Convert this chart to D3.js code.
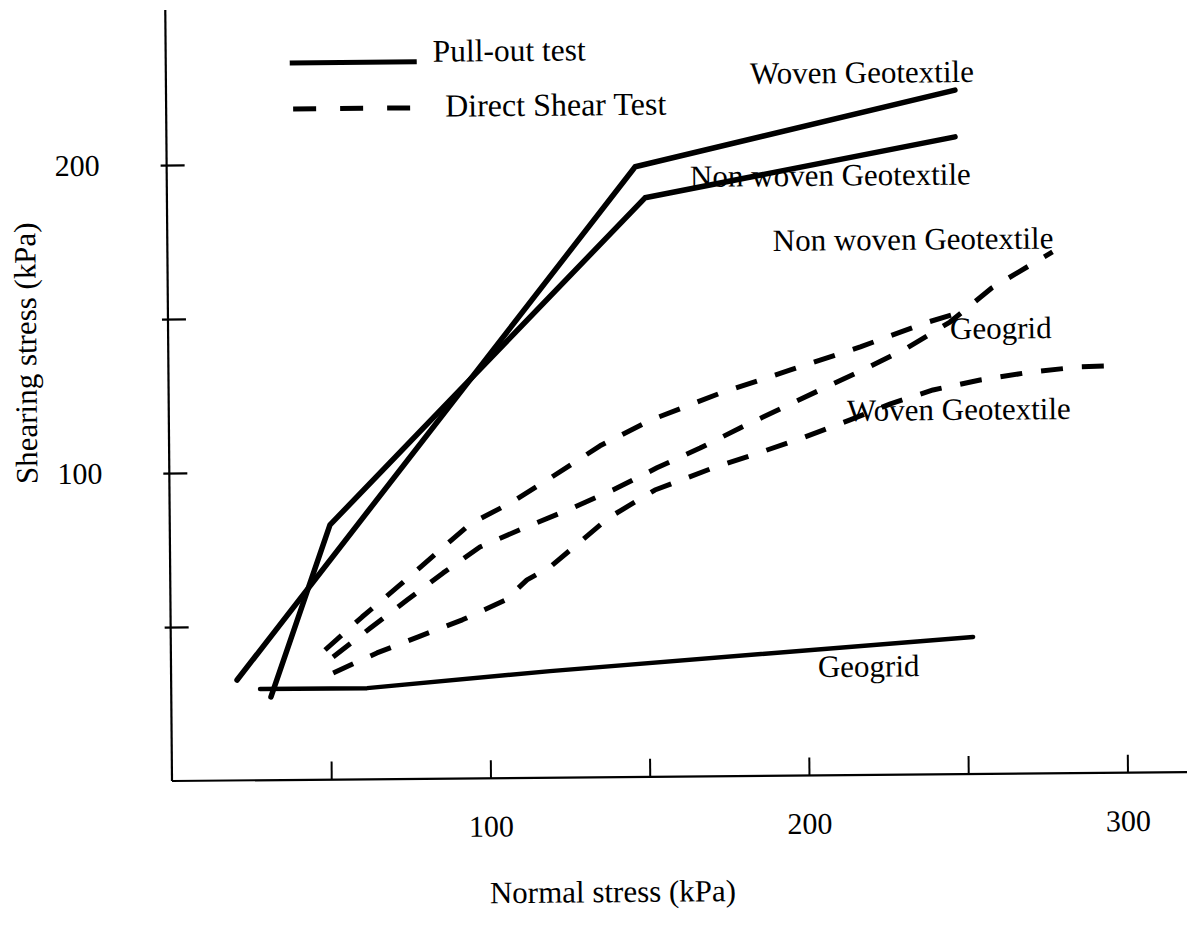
<!DOCTYPE html>
<html>
<head>
<meta charset="utf-8">
<script src="https://cdn.jsdelivr.net/npm/d3@7"></script>
<style>
  html, body { margin: 0; padding: 0; background: #fff; }
  svg { display: block; }
  text { font-family: "Liberation Serif", "Times New Roman", serif; fill: #000; }
</style>
</head>
<body>
<svg id="chart" width="1187" height="935"></svg>
<script>
// Axis ticks and labels (kPa)
const xTicks = [50, 100, 150, 200, 250, 300];
const xTickLabels = [100, 200, 300];
const yTicks = [50, 100, 150, 200];
const yTickLabels = [100, 200];

// Pull-out test results: [normal stress, shearing stress] in kPa
const pulloutWoven    = [[20.7, 32.6], [147.1, 198.1], [247.7, 222.1]];
const pulloutNonWoven = [[31.3, 27.0], [50.3, 82.7], [150.1, 188.0], [247.6, 206.9]];
const pulloutGeogrid  = [[27.9, 29.6], [61.5, 29.6], [119.0, 34.6], [251.9, 44.5]];

// Direct shear test results
const shearGeogrid = [[48.4, 42.1], [60.1, 52.7], [72.1, 63.0], [84.9, 74.3], [94.3, 82.6],
  [107.0, 89.3], [119.6, 97.3], [135.3, 107.6], [151.2, 115.8], [173.3, 124.4],
  [195.3, 131.7], [217.3, 139.0], [237.8, 146.6], [248.9, 150.0]];
const shearNonWoven = [[50.9, 39.8], [62.7, 49.1], [74.3, 58.1], [85.7, 66.8], [97.3, 75.1],
  [111.1, 81.1], [125.1, 86.9], [139.2, 93.2], [153.1, 100.3], [166.7, 106.6],
  [179.3, 113.0], [192.6, 119.4], [204.5, 125.1], [219.3, 132.1], [232.0, 138.5],
  [245.5, 146.8], [258.8, 157.8], [277.9, 169.3]];
const shearWoven = [[50.9, 34.6], [64.7, 41.0], [77.7, 46.1], [91.6, 51.5], [105.2, 57.8],
  [112.0, 64.3], [119.3, 68.4], [137.8, 84.2], [152.4, 93.1], [170.7, 100.1],
  [184.9, 104.8], [198.9, 109.6], [213.9, 115.3], [226.6, 120.4], [240.0, 124.8],
  [254.8, 127.9], [271.1, 130.4], [286.4, 131.9], [294.2, 132.1]];

// Curve names, anchored in data space
const curveNames = ["Woven Geotextile", "Non woven Geotextile", "Non woven Geotextile",
  "Geogrid", "Woven Geotextile", "Geogrid"];
const curveNameAt = [[183.4, 224.7], [164.3, 191.4], [190.1, 170.4],
  [245.5, 141.3], [212.9, 115.0], [203.1, 31.9]];

const legendNames = ["Pull-out test", "Direct Shear Test"];

const svg = d3.select("#chart");
const ox = 172, oy = 781;
// the whole sheet sits at a slight tilt
const g = svg.append("g").attr("transform", `rotate(-0.5, ${ox}, ${oy})`);

const x = d3.scaleLinear().domain([0, 300]).range([ox, 1127.5]);
const y = d3.scaleLinear().domain([0, 200]).range([oy, 165]);

// Y axis
const yAxis = g.append("g").attr("transform", `translate(${ox},0)`)
  .call(d3.axisLeft(y).tickValues(yTicks)
    .tickFormat(d => yTickLabels.includes(d) ? d : "")
    .tickSizeInner(-18).tickSizeOuter(0).tickPadding(67));
yAxis.select(".domain").attr("d", `M0,${oy}V${y(250.3)}`).attr("stroke", "#000").attr("stroke-width", 2.2);
yAxis.selectAll(".tick line").attr("x1", -6).attr("stroke", "#000").attr("stroke-width", 2.2);
yAxis.selectAll(".tick text").attr("font-size", 30).attr("font-family", "Liberation Serif");

// X axis
const xAxis = g.append("g").attr("transform", `translate(0,${oy})`)
  .call(d3.axisBottom(x).tickValues(xTicks)
    .tickFormat(d => xTickLabels.includes(d) ? d : "")
    .tickSizeInner(-18).tickSizeOuter(0).tickPadding(37));
xAxis.select(".domain").attr("d", `M${ox},0H${x(320)}`).attr("stroke", "#000").attr("stroke-width", 2.2);
xAxis.selectAll(".tick line").attr("stroke", "#000").attr("stroke-width", 2);
xAxis.selectAll(".tick text").attr("font-size", 30).attr("font-family", "Liberation Serif");

// Axis titles
g.append("text").attr("x", 612).attr("y", 906).attr("text-anchor", "middle")
  .attr("font-size", 31).text("Normal stress (kPa)");
g.append("text").attr("transform", "translate(40,352) rotate(-90)").attr("text-anchor", "middle")
  .attr("font-size", 31).text("Shearing stress (kPa)");

const line = d3.line().x(d => x(d[0])).y(d => y(d[1]));

// Pull-out curves (solid)
[pulloutWoven, pulloutNonWoven].forEach(s => {
  g.append("path").attr("d", line(s)).attr("fill", "none").attr("stroke", "#000")
    .attr("stroke-width", 5.5).attr("stroke-linejoin", "round").attr("stroke-linecap", "round");
});
g.append("path").attr("d", line(pulloutGeogrid)).attr("fill", "none").attr("stroke", "#000")
  .attr("stroke-width", 4.5).attr("stroke-linejoin", "round").attr("stroke-linecap", "round");

// Direct shear curves (dashed)
[shearGeogrid, shearNonWoven, shearWoven].forEach(s => {
  g.append("path").attr("d", line(s)).attr("fill", "none").attr("stroke", "#000")
    .attr("stroke-width", 5).attr("stroke-dasharray", "22,19").attr("stroke-linejoin", "round");
});

// Curve names
curveNames.forEach((t, i) => {
  g.append("text").attr("x", x(curveNameAt[i][0])).attr("y", y(curveNameAt[i][1]))
    .attr("font-size", 31).text(t);
});

// Legend
g.append("line").attr("x1", 296).attr("x2", 423).attr("y1", 64).attr("y2", 64)
  .attr("stroke", "#000").attr("stroke-width", 5);
g.append("line").attr("x1", 299).attr("x2", 416).attr("y1", 110).attr("y2", 110)
  .attr("stroke", "#000").attr("stroke-width", 5).attr("stroke-dasharray", "23,24");
g.append("text").attr("x", 439).attr("y", 64).attr("font-size", 31.5).text(legendNames[0]);
g.append("text").attr("x", 451).attr("y", 119).attr("font-size", 32).text(legendNames[1]);
</script>
</body>
</html>
